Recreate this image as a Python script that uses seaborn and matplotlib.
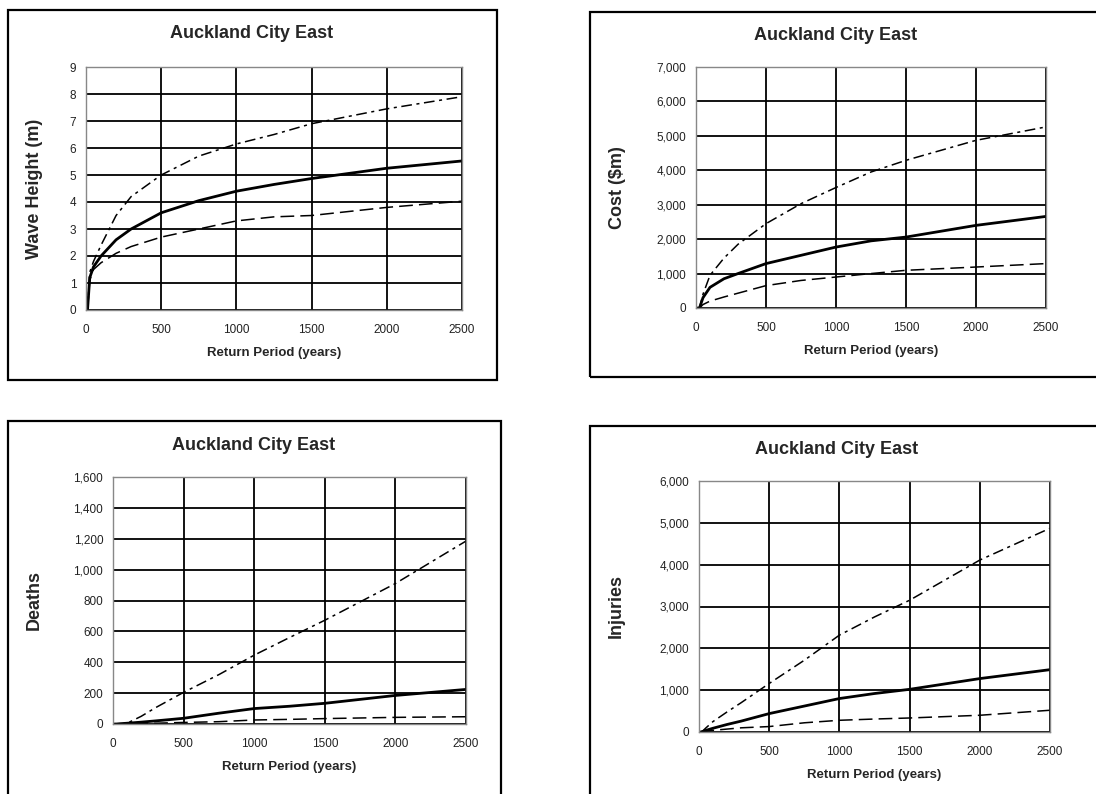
import numpy as np
import pandas as pd
import matplotlib
matplotlib.use("Agg")
import matplotlib.pyplot as plt
import matplotlib.ticker as mticker
from matplotlib.patches import Rectangle
import seaborn as sns

# return periods (years)
years = [10, 25, 50, 100, 200, 300, 500, 750, 1000, 1250, 1500, 2000, 2500]

# wave height (m)
wave_upper = [0.0, 1.4, 1.8, 2.4, 3.5, 4.2, 5.0, 5.7, 6.15, 6.5, 6.9, 7.45, 7.9]
wave_mid = [0.0, 1.2, 1.6, 2.0, 2.6, 3.0, 3.6, 4.05, 4.4, 4.65, 4.87, 5.25, 5.52]
wave_lower = [0.0, 1.1, 1.5, 1.75, 2.1, 2.35, 2.7, 3.0, 3.3, 3.45, 3.5, 3.8, 4.03]

# cost ($m)
cost_upper = [0, 0, 400, 950, 1450, 1850, 2450, 3030, 3500, 3950, 4290, 4870, 5260]
cost_mid = [0, 0, 300, 600, 850, 1000, 1290, 1530, 1770, 1950, 2060, 2400, 2660]
cost_lower = [0, 0, 100, 200, 320, 430, 650, 800, 900, 1000, 1095, 1190, 1290]

# deaths
deaths_upper = [0, 0, 0, 5, 50, 105, 205, 320, 446, 560, 672, 910, 1185]
deaths_mid = [0, 0, 2, 5, 12, 20, 37, 70, 100, 115, 134, 185, 224]
deaths_lower = [0, 0, 0, 1, 3, 5, 10, 15, 26, 30, 35, 43, 47]

# injuries
inj_upper = [0, 20, 100, 250, 480, 700, 1160, 1715, 2315, 2750, 3150, 4110, 4870]
inj_mid = [0, 10, 40, 90, 180, 260, 440, 620, 800, 920, 1020, 1277, 1490]
inj_lower = [0, 5, 20, 40, 70, 100, 130, 220, 280, 310, 335, 400, 520]

title = "Auckland City East"
xlab = "Return Period (years)"

sns.set_style("white")
plt.rcParams['font.family'] = ['Liberation Sans', 'DejaVu Sans']

W, H = 1096, 794
fig = plt.figure(figsize=(W / 100, H / 100), dpi=100)


def frame(x0, y0, x1, y1):
    fig.patches.append(Rectangle((x0 / W, 1 - y1 / H), (x1 - x0) / W, (y1 - y0) / H,
                                 transform=fig.transFigure, fill=False,
                                 edgecolor='black', linewidth=1.6))


def panel(box, tbox, upper, mid, lower, ymax, ystep, ylabel, ylab_x, comma):
    x0, y0, x1, y1 = box
    ax = fig.add_axes([x0 / W, 1 - y1 / H, (x1 - x0) / W, (y1 - y0) / H])
    sns.lineplot(x=years, y=upper, ax=ax, color='black', linewidth=1.1,
                 linestyle=(0, (7, 3, 2, 3)))
    sns.lineplot(x=years, y=mid, ax=ax, color='black', linewidth=2.0)
    sns.lineplot(x=years, y=lower, ax=ax, color='black', linewidth=1.1,
                 linestyle=(0, (9, 4)))
    ax.set_xlim(0, 2500)
    ax.set_ylim(0, ymax)
    ax.set_xticks(range(0, 2501, 500))
    ax.set_yticks(np.arange(0, ymax + ystep / 2, ystep))
    if comma:
        ax.yaxis.set_major_formatter(mticker.StrMethodFormatter('{x:,.0f}'))
    ax.grid(True, color='black', linewidth=1.3)
    ax.set_axisbelow(True)
    for s in ax.spines.values():
        s.set_color('#888888')
        s.set_linewidth(1.0)
    ax.tick_params(length=0, labelsize=8.5, labelcolor='#222222', pad=7)
    ax.tick_params(axis='x', pad=10)
    ax.set_xlabel(xlab, fontsize=9.5, fontweight='bold', labelpad=8)
    ax.set_ylabel(ylabel, fontsize=13, fontweight='bold')
    ax.yaxis.set_label_coords((ylab_x - x0) / (x1 - x0), 0.5)
    fig.text(tbox[0] / W, 1 - tbox[1] / H, title, ha='center', va='center',
             fontsize=13, fontweight='bold')
    return ax


frame(8, 10, 497, 380)
frame(590, 12, 1110, 377)
frame(8, 421, 501, 810)
frame(590, 426, 1110, 810)

panel((86, 67, 462, 310), (252, 34), wave_upper, wave_mid, wave_lower,
      9, 1, "Wave Height (m)", 43, False)
panel((696, 67, 1046, 308), (836, 36), cost_upper, cost_mid, cost_lower,
      7000, 1000, "Cost ($m)", 626, True)
panel((113, 477, 466, 724), (254, 445), deaths_upper, deaths_mid, deaths_lower,
      1600, 200, "Deaths", 43, True)
panel((699, 481, 1050, 732), (837, 450), inj_upper, inj_mid, inj_lower,
      6000, 1000, "Injuries", 625, True)

fig.savefig("out.png", dpi=100)
